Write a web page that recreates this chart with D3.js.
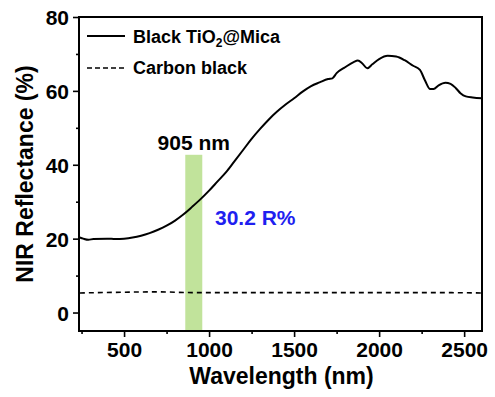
<!DOCTYPE html>
<html>
  <head>
    <meta charset="utf-8">
    <script src="https://d3js.org/d3.v7.min.js"></script>
    <style>
      body { margin: 0px; background: #fff; }
      text { font-family: 'Liberation Sans', Arial, sans-serif; font-weight: bold; }
    </style>
  </head>
  <body>
    <svg width="495" height="397"></svg>
    <script>
      // Black TiO2@Mica reflectance spectrum
      const tioWave = [240, 260, 290, 320, 400, 450, 500, 550, 600, 650, 700, 750, 800, 850, 900, 950,
        1000, 1050, 1100, 1150, 1200, 1250, 1300, 1350, 1400, 1450, 1500, 1550, 1600, 1650, 1700, 1725,
        1750, 1800, 1850, 1875, 1900, 1930, 1960, 2000, 2050, 2100, 2150, 2200, 2240, 2270, 2300, 2320,
        2350, 2390, 2420, 2450, 2480, 2510, 2550, 2605];
      const tioRefl = [20.3, 20.0, 19.7, 19.9, 20.0, 19.9, 20.0, 20.3, 20.8, 21.5, 22.4, 23.5, 24.9, 26.6, 28.6, 30.7,
        33.0, 35.5, 38.0, 41.0, 44.0, 47.0, 49.7, 52.2, 54.4, 56.3, 58.0, 59.8, 61.3, 62.3, 63.2, 63.4,
        64.8, 66.4, 67.8, 68.2, 67.5, 66.1, 67.2, 68.6, 69.5, 69.3, 68.3, 66.8, 65.7, 62.8, 60.5, 60.5,
        61.5, 62.2, 61.9, 60.8, 59.3, 58.5, 58.2, 58.0];
      // Carbon black
      const cbWave = [240, 500, 700, 900, 1200, 1500, 2000, 2300, 2605];
      const cbRefl = [5.3, 5.5, 5.6, 5.4, 5.4, 5.4, 5.4, 5.4, 5.3];

      const band = [860, 960];   // highlighted 905 nm band (nm)
      const bandTop = 42.7;

      const xTicks = [500, 1000, 1500, 2000, 2500];
      const xMinor = [250, 750, 1250, 1750, 2250];
      const yTicks = [0, 20, 40, 60, 80];
      const yMinor = [10, 30, 50, 70];

      const margin = { left: 79, right: 13, top: 17, bottom: 66 };
      const svg = d3.select('svg');
      const width = +svg.attr('width');
      const height = +svg.attr('height');
      const innerWidth = width - margin.left - margin.right;
      const innerHeight = height - margin.top - margin.bottom;

      const xScale = d3.scaleLinear().domain([235, 2605]).range([0, innerWidth]);
      const yScale = d3.scaleLinear().domain([-5, 80]).range([innerHeight, 0]);

      const g = svg.append('g')
          .attr('transform', `translate(${margin.left},${margin.top})`);

      // green band
      g.append('rect')
        .attr('x', xScale(band[0]))
        .attr('y', yScale(bandTop))
        .attr('width', xScale(band[1]) - xScale(band[0]))
        .attr('height', yScale(-5) - yScale(bandTop))
        .attr('fill', '#c1e39b');

      const line = d3.line()
        .x(d => xScale(d[0]))
        .y(d => yScale(d[1]))
        .curve(d3.curveMonotoneX);

      g.append('path')
        .datum(tioWave.map((w, i) => [w, tioRefl[i]]))
        .attr('d', line)
        .attr('fill', 'none')
        .attr('stroke', '#000')
        .attr('stroke-width', 2);

      g.append('path')
        .datum(cbWave.map((w, i) => [w, cbRefl[i]]))
        .attr('d', line)
        .attr('fill', 'none')
        .attr('stroke', '#000')
        .attr('stroke-width', 1.6)
        .attr('stroke-dasharray', '5,4');

      // axes
      g.append('g')
        .attr('transform', `translate(0,${innerHeight})`)
        .call(d3.axisBottom(xScale).tickValues(xTicks).tickSize(6).tickPadding(5).tickFormat(d3.format('d')));
      g.append('g')
        .attr('class', 'minor')
        .attr('transform', `translate(0,${innerHeight})`)
        .call(d3.axisBottom(xScale).tickValues(xMinor).tickSize(3).tickFormat(''));
      const yAxisG = g.append('g')
        .call(d3.axisLeft(yScale).tickValues(yTicks).tickSize(6).tickPadding(4));
      g.append('g')
        .attr('class', 'minor')
        .call(d3.axisLeft(yScale).tickValues(yMinor).tickSize(3).tickFormat(''));

      g.selectAll('.minor text').remove();
      g.selectAll('.domain').remove();
      g.selectAll('.tick line').attr('stroke', '#000').attr('stroke-width', 1.6);
      g.selectAll('.tick text')
        .attr('fill', '#000')
        .style('font-size', '21px')
        .style('font-family', "'Liberation Sans', Arial, sans-serif")
        .style('font-weight', 'bold');
      yAxisG.selectAll('.tick text').attr('dy', '0.36em');

      // frame
      g.append('rect')
        .attr('width', innerWidth)
        .attr('height', innerHeight)
        .attr('fill', 'none')
        .attr('stroke', '#000')
        .attr('stroke-width', 2);

      // axis labels
      svg.append('text')
        .attr('x', margin.left + innerWidth / 2 + 1)
        .attr('y', 384)
        .attr('text-anchor', 'middle')
        .style('font-size', '23px')
        .text('Wavelength (nm)');

      svg.append('text')
        .attr('transform', `translate(33,${margin.top + 157}) rotate(-90)`)
        .attr('text-anchor', 'middle')
        .style('font-size', '23px')
        .text('NIR Reflectance (%)');

      // annotations
      g.append('text')
        .attr('x', xScale((band[0] + band[1]) / 2))
        .attr('y', 150 - margin.top)
        .attr('text-anchor', 'middle')
        .style('font-size', '21px')
        .text('905 nm');

      g.append('text')
        .attr('x', 215 - margin.left)
        .attr('y', 225 - margin.top)
        .attr('fill', '#1f1ff0')
        .style('font-size', '21px')
        .text('30.2 R%');

      // legend
      const legend = svg.append('g');
      legend.append('line')
        .attr('x1', 87).attr('x2', 125).attr('y1', 36).attr('y2', 36)
        .attr('stroke', '#000').attr('stroke-width', 2);
      const t1 = legend.append('text')
        .attr('x', 133).attr('y', 43)
        .style('font-size', '18px');
      t1.append('tspan').text('Black TiO');
      t1.append('tspan').attr('dy', 4).style('font-size', '12px').text('2');
      t1.append('tspan').attr('dy', -4).text('@Mica');

      legend.append('line')
        .attr('x1', 87).attr('x2', 125).attr('y1', 68).attr('y2', 68)
        .attr('stroke', '#000').attr('stroke-width', 1.6)
        .attr('stroke-dasharray', '5,3');
      legend.append('text')
        .attr('x', 133).attr('y', 74)
        .style('font-size', '18px')
        .text('Carbon black');
    </script>
  </body>
</html>
